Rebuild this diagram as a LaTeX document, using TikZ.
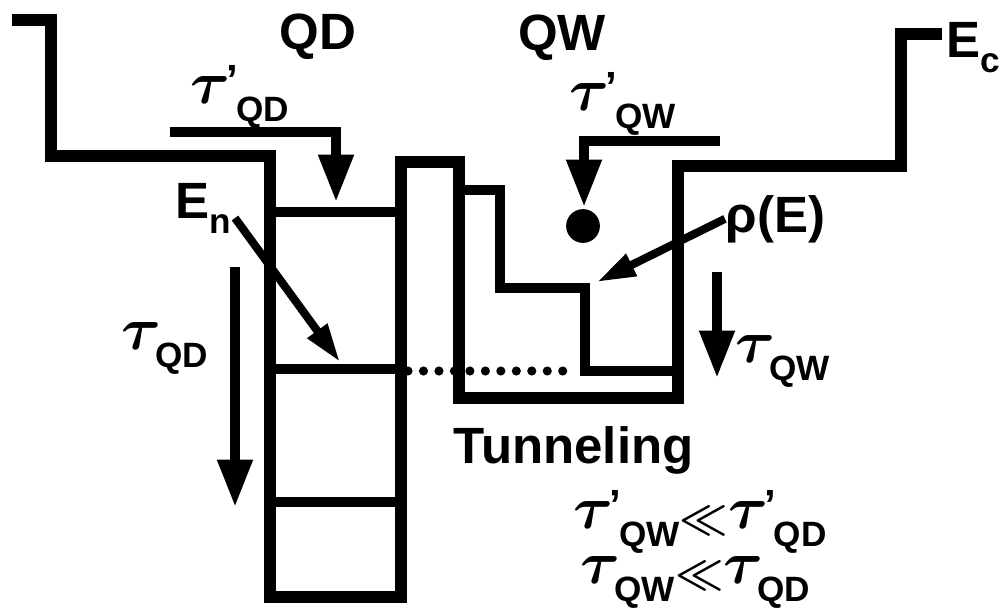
\documentclass[tikz,border=0pt]{standalone}
\usepackage{fontspec}
\setmainfont{Liberation Sans}
\usepackage{tikz}
\usetikzlibrary{arrows.meta,positioning}
\newcommand{\tq}[2]{$\tau$\kern-0.06em\raisebox{0.12em}{\fontsize{12}{14}\selectfont #1}\kern-0.03em\raisebox{-0.28em}{\fontsize{10}{12}\selectfont #2}}
\newcommand{\lsub}[1]{\raisebox{-0.3em}{\fontsize{10}{12}\selectfont #1}}
\newcommand{\mll}{\raisebox{-0.05em}{\fontsize{13}{15}\selectfont$\ll$}}

\begin{document}
\begin{tikzpicture}[x=0.01cm,y=-0.01cm,
  font=\fontsize{14.5}{17}\selectfont\bfseries,
  band/.style={line width=3.4pt,line join=miter},
  level/.style={line width=2.6pt},
  relax/.style={line width=2.8pt,->},
  tau/.style={font=\fontsize{19}{22}\selectfont\bfseries\boldmath,inner sep=0pt,anchor=base west},
  lbl/.style={inner sep=0pt,anchor=base west},
  >={Triangle[length=13.5pt,width=9.5pt]}]
  \useasboundingbox (0,0) rectangle (1007,609);
  % conduction band edge with dot and well
  \draw[band] (12,20) -- (51,20) -- (51,156) -- (270,156) -- (270,597) -- (401,597)
    -- (401,162) -- (459,162) -- (459,398) -- (678,398) -- (678,166) -- (901,166)
    -- (901,34) -- (942,34);
  % dot levels
  \draw[level] (270,212) -- (401,212);
  \draw[level] (270,369) -- (401,369);
  \draw[level] (270,502) -- (401,502);
  \draw[line width=2.6pt,line cap=round,dash pattern=on 0pt off 4.4pt] (408,371) -- (570,371);
  % well density of states
  \draw[level] (459,190) -- (500,190) -- (500,288) -- (585,288) -- (585,371) -- (678,371);
  % labels
  \node (QD) at (318,37) {QD};
  \node (QW) at (562,38) {QW};
  \node[lbl] (Ec) at (946,57) {E\lsub{c}};
  \node[lbl] (En) at (175,218) {E\lsub{n}};
  \node[lbl] (rho) at (725,232) {ρ(E)};
  \node[lbl] (tun) at (453,463) {Tunneling};
  \node[tau] (tQDc) at (190,103) {\tq{'}{QD}};
  \node[tau] (tQWc) at (569,110) {\tq{'}{QW}};
  \node[tau] (tQD) at (121,349) {\tq{}{QD}};
  \node[tau] (tQW) at (735,362) {\tq{}{QW}};
  \node[tau] (rel1) at (573,528) {\tq{'}{QW}\mll\tq{'}{QD}};
  \node[tau] (rel2) at (580,583) {\tq{}{QW}\mll\tq{}{QD}};
  % capture and relaxation arrows
  \coordinate (capQD) at (336,202);
  \coordinate (capQW) at (584,207);
  \draw[relax] (170,132) -| (capQD);
  \draw[relax] (720,141) -| (capQW);
  \fill (583,226) circle (4.8pt);
  \coordinate (enTip) at (340,362);
  \coordinate (rhoTip) at (597,282);
  \draw[line width=2.3pt,-{Triangle[length=11pt,width=6.5pt]}] (235,218) -- (enTip);
  \draw[line width=2.3pt,-{Triangle[length=11pt,width=6.5pt]}] (rho.west) -- (rhoTip);
  \draw[relax] (235,267) -- (235,507);
  \draw[relax] (717,272) -- (717,378);
\end{tikzpicture}
\end{document}
